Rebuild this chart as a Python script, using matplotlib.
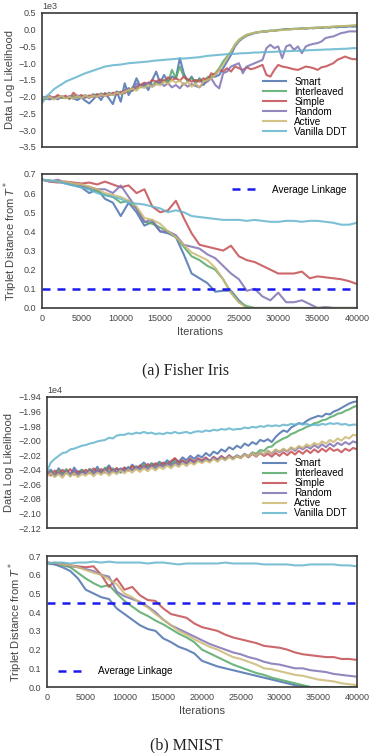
import numpy as np
import matplotlib
matplotlib.use("Agg")
import matplotlib.pyplot as plt

plt.rcParams['font.family'] = ['Liberation Sans', 'DejaVu Sans']

methods = ['Smart', 'Interleaved', 'Simple', 'Random', 'Active', 'Vanilla DDT']
colors = ['#4C72B0', '#55A868', '#C44E52', '#8172B2', '#CCB974', '#64B5CD']

# log likelihood sampled every 500 iterations, triplet distance every 1000
iters_ll = np.arange(0, 40001, 500)
iters_td = np.arange(0, 40001, 1000)

# ---- Fisher Iris: data log likelihood (x1e3)
fi_ll_smart = [
    -2.10, -2.05, -2.08, -2.02, -2.06, -2.00, -2.04, -1.98, -2.05, -2.10,
    -2.02, -2.12, -2.20, -2.08, -1.95, -2.10, -1.90, -2.05, -2.22, -1.85,
    -2.15, -1.60, -1.95, -1.75, -1.45, -1.70, -1.60, -1.80, -1.50, -1.25,
    -1.60, -1.35, -1.55, -1.40, -1.45, -0.85, -1.30, -1.55, -1.40, -1.60,
    -1.45, -1.65, -1.50, -1.42, -1.40, -1.35, -1.15, -0.95, -0.75, -0.50,
    -0.35, -0.25, -0.18, -0.14, -0.10, -0.08, -0.06, -0.06, -0.03, -0.04,
    -0.01, 0.00, 0.02, 0.01, 0.03, 0.02, 0.04, 0.03, 0.05, 0.04,
    0.06, 0.05, 0.07, 0.06, 0.08, 0.07, 0.09, 0.08, 0.10, 0.09, 0.10]
fi_ll_inter = [
    -2.05, -2.08, -2.00, -2.06, -1.98, -2.04, -2.00, -2.07, -1.97, -2.03,
    -2.00, -1.95, -2.02, -1.92, -1.98, -1.90, -1.96, -1.88, -1.94, -1.85,
    -1.90, -1.80, -1.85, -1.72, -1.78, -1.65, -1.70, -1.58, -1.66, -1.55,
    -1.62, -1.50, -1.58, -1.20, -1.45, -1.10, -1.40, -1.52, -1.45, -1.55,
    -1.48, -1.55, -1.42, -1.40, -1.30, -1.15, -0.95, -0.80, -0.65, -0.45,
    -0.30, -0.22, -0.15, -0.12, -0.09, -0.07, -0.05, -0.04, -0.03, -0.02,
    -0.01, 0.00, 0.01, 0.02, 0.02, 0.03, 0.04, 0.04, 0.05, 0.06,
    0.06, 0.07, 0.08, 0.08, 0.09, 0.10, 0.10, 0.11, 0.11, 0.12, 0.12]
fi_ll_simple = [
    -2.00, -2.05, -1.98, -2.04, -1.95, -2.02, -1.97, -2.05, -1.88, -2.00,
    -1.95, -2.03, -1.96, -2.00, -1.92, -1.98, -1.90, -1.96, -1.88, -1.93,
    -1.85, -1.90, -1.75, -1.82, -1.70, -1.65, -1.58, -1.62, -1.50, -1.55,
    -1.48, -1.55, -1.42, -1.50, -1.45, -1.52, -1.40, -1.48, -1.55, -1.50,
    -1.55, -1.45, -1.50, -1.30, -1.35, -1.20, -1.25, -1.15, -1.25, -1.10,
    -1.15, -1.20, -1.12, -1.18, -1.15, -1.10, -1.05, -1.35, -1.40, -1.20,
    -1.05, -1.10, -1.12, -1.15, -1.18, -1.20, -1.15, -1.10, -1.12, -1.15,
    -1.20, -1.12, -1.10, -1.05, -1.00, -0.90, -0.85, -0.80, -0.85, -0.88, -0.88]
fi_ll_random = [
    -2.05, -2.00, -2.06, -2.02, -2.08, -1.98, -2.04, -2.00, -2.06, -1.96,
    -2.02, -1.98, -2.04, -1.95, -2.00, -1.92, -1.98, -1.90, -1.95, -1.85,
    -1.92, -1.80, -1.75, -1.82, -1.60, -1.72, -1.65, -1.58, -1.70, -1.62,
    -1.55, -1.68, -1.60, -1.72, -1.65, -1.75, -1.60, -1.70, -1.62, -1.68,
    -1.72, -1.60, -1.55, -1.45, -1.65, -1.75, -1.30, -1.25, -1.10, -1.05,
    -1.00, -1.30, -1.10, -1.05, -1.00, -0.95, -0.90, -0.55, -0.45, -0.55,
    -0.50, -0.85, -0.50, -0.45, -0.60, -0.50, -0.70, -0.50, -0.45, -0.42,
    -0.40, -0.35, -0.25, -0.22, -0.20, -0.15, -0.10, -0.08, -0.05, -0.05, -0.05]
fi_ll_active = [
    -2.02, -2.06, -2.00, -2.08, -2.03, -1.98, -2.05, -2.00, -2.06, -1.98,
    -2.04, -1.96, -2.02, -1.97, -2.00, -1.94, -1.98, -1.92, -1.95, -1.88,
    -1.92, -1.85, -1.80, -1.76, -1.82, -1.70, -1.74, -1.65, -1.70, -1.62,
    -1.66, -1.55, -1.62, -1.50, -1.58, -1.52, -1.65, -1.55, -1.70, -1.60,
    -1.72, -1.55, -1.50, -1.45, -1.35, -1.20, -1.05, -0.85, -0.65, -0.45,
    -0.32, -0.22, -0.16, -0.12, -0.09, -0.07, -0.06, -0.05, -0.04, -0.03,
    -0.02, -0.01, 0.00, 0.01, 0.02, 0.03, 0.03, 0.04, 0.05, 0.05,
    0.06, 0.07, 0.08, 0.08, 0.09, 0.10, 0.11, 0.11, 0.12, 0.13, 0.14]
fi_ll_vanilla = [
    -2.20, -2.00, -1.90, -1.78, -1.70, -1.63, -1.55, -1.50, -1.45, -1.40,
    -1.35, -1.30, -1.26, -1.22, -1.18, -1.14, -1.10, -1.08, -1.06, -1.05,
    -1.04, -1.02, -1.00, -0.99, -0.98, -0.97, -0.96, -0.95, -0.93, -0.92,
    -0.91, -0.90, -0.89, -0.88, -0.87, -0.86, -0.86, -0.85, -0.84, -0.83,
    -0.82, -0.80, -0.78, -0.77, -0.76, -0.75, -0.74, -0.73, -0.72, -0.72,
    -0.71, -0.70, -0.70, -0.69, -0.68, -0.68, -0.67, -0.67, -0.66, -0.66,
    -0.65, -0.65, -0.64, -0.64, -0.63, -0.63, -0.62, -0.62, -0.61, -0.61,
    -0.60, -0.60, -0.59, -0.59, -0.58, -0.58, -0.57, -0.57, -0.56, -0.55, -0.55]

# ---- Fisher Iris: triplet distance
fi_td_smart = [
    0.67, 0.665, 0.66, 0.65, 0.64, 0.63, 0.60, 0.62, 0.57, 0.55,
    0.48, 0.55, 0.50, 0.43, 0.45, 0.40, 0.39, 0.37, 0.28, 0.18,
    0.155, 0.13, 0.085, 0.09, 0.09, 0.04, 0.0, 0.0, 0.0, 0.0,
    0.0, 0.0, 0.0, 0.0, 0.0, 0.0, 0.0, 0.0, 0.0, 0.0, 0.0]
fi_td_inter = [
    0.67, 0.665, 0.66, 0.655, 0.645, 0.64, 0.62, 0.61, 0.59, 0.58,
    0.55, 0.56, 0.52, 0.45, 0.44, 0.42, 0.40, 0.37, 0.32, 0.27,
    0.25, 0.22, 0.20, 0.15, 0.08, 0.03, 0.01, 0.0, 0.0, 0.0,
    0.0, 0.0, 0.0, 0.0, 0.0, 0.0, 0.0, 0.0, 0.0, 0.0, 0.0]
fi_td_simple = [
    0.67, 0.66, 0.655, 0.66, 0.655, 0.65, 0.655, 0.645, 0.66, 0.645,
    0.63, 0.64, 0.60, 0.62, 0.53, 0.50, 0.51, 0.56, 0.47, 0.39,
    0.33, 0.32, 0.31, 0.30, 0.325, 0.27, 0.25, 0.24, 0.22, 0.20,
    0.18, 0.18, 0.18, 0.19, 0.155, 0.165, 0.16, 0.155, 0.15, 0.14, 0.125]
fi_td_random = [
    0.67, 0.66, 0.67, 0.655, 0.65, 0.64, 0.63, 0.62, 0.62, 0.60,
    0.64, 0.58, 0.52, 0.45, 0.46, 0.40, 0.40, 0.38, 0.33, 0.32,
    0.31, 0.28, 0.26, 0.22, 0.18, 0.15, 0.09, 0.10, 0.06, 0.04,
    0.08, 0.03, 0.03, 0.04, 0.02, 0.0, 0.005, 0.0, 0.0, 0.0, 0.0]
fi_td_active = [
    0.67, 0.665, 0.66, 0.66, 0.65, 0.645, 0.635, 0.62, 0.60, 0.59,
    0.58, 0.56, 0.53, 0.47, 0.46, 0.44, 0.40, 0.37, 0.33, 0.29,
    0.27, 0.25, 0.21, 0.15, 0.08, 0.03, 0.0, 0.0, 0.0, 0.0,
    0.0, 0.0, 0.0, 0.0, 0.0, 0.0, 0.0, 0.0, 0.0, 0.0, 0.0]
fi_td_vanilla = [
    0.67, 0.665, 0.66, 0.65, 0.64, 0.63, 0.62, 0.60, 0.59, 0.58,
    0.57, 0.55, 0.545, 0.54, 0.53, 0.52, 0.50, 0.51, 0.50, 0.48,
    0.475, 0.47, 0.465, 0.46, 0.46, 0.46, 0.455, 0.46, 0.455, 0.45,
    0.45, 0.455, 0.455, 0.45, 0.455, 0.455, 0.45, 0.445, 0.435, 0.435, 0.445]
fi_avg_linkage = 0.1

# ---- MNIST: data log likelihood (x1e4)
mn_ll_smart = [
    -2.044, -2.040, -2.047, -2.038, -2.045, -2.041, -2.049, -2.037, -2.044, -2.040,
    -2.046, -2.039, -2.043, -2.036, -2.045, -2.040, -2.034, -2.042, -2.038, -2.044,
    -2.037, -2.041, -2.033, -2.039, -2.035, -2.030, -2.036, -2.031, -2.034, -2.029,
    -2.033, -2.027, -2.031, -2.025, -2.029, -2.023, -2.027, -2.021, -2.025, -2.020,
    -2.023, -2.017, -2.021, -2.015, -2.018, -2.012, -2.015, -2.009, -2.012, -2.007,
    -2.010, -2.004, -2.007, -2.002, -2.005, -1.999, -2.001, -1.998, -2.002, -1.995,
    -1.990, -1.986, -1.988, -1.982, -1.979, -1.976, -1.977, -1.973, -1.970, -1.968,
    -1.966, -1.967, -1.963, -1.964, -1.960, -1.958, -1.955, -1.952, -1.949, -1.947, -1.946]
mn_ll_inter = [
    -2.046, -2.042, -2.048, -2.041, -2.045, -2.039, -2.046, -2.042, -2.047, -2.040,
    -2.044, -2.039, -2.045, -2.040, -2.043, -2.037, -2.042, -2.038, -2.044, -2.039,
    -2.041, -2.036, -2.040, -2.035, -2.038, -2.033, -2.037, -2.032, -2.036, -2.031,
    -2.034, -2.030, -2.033, -2.028, -2.032, -2.027, -2.031, -2.026, -2.030, -2.027,
    -2.029, -2.025, -2.028, -2.024, -2.027, -2.023, -2.026, -2.022, -2.025, -2.021,
    -2.023, -2.019, -2.021, -2.016, -2.018, -2.013, -2.014, -2.009, -2.008, -2.003,
    -2.000, -1.997, -1.995, -1.991, -1.989, -1.986, -1.984, -1.981, -1.979, -1.976,
    -1.975, -1.972, -1.971, -1.968, -1.966, -1.963, -1.962, -1.959, -1.957, -1.954, -1.952]
mn_ll_simple = [
    -2.043, -2.048, -2.041, -2.046, -2.040, -2.045, -2.039, -2.047, -2.042, -2.044,
    -2.040, -2.045, -2.038, -2.043, -2.039, -2.044, -2.037, -2.042, -2.038, -2.041,
    -2.037, -2.041, -2.035, -2.039, -2.034, -2.038, -2.032, -2.036, -2.031, -2.035,
    -2.030, -2.034, -2.028, -2.024, -2.030, -2.027, -2.031, -2.025, -2.029, -2.024,
    -2.027, -2.023, -2.028, -2.022, -2.026, -2.021, -2.025, -2.020, -2.024, -2.021,
    -2.024, -2.019, -2.023, -2.018, -2.022, -2.017, -2.021, -2.018, -2.022, -2.017,
    -2.021, -2.016, -2.020, -2.015, -2.019, -2.014, -2.018, -2.013, -2.017, -2.012,
    -2.016, -2.011, -2.015, -2.010, -2.014, -2.012, -2.016, -2.011, -2.014, -2.010, -2.012]
mn_ll_random = [
    -2.047, -2.043, -2.049, -2.044, -2.048, -2.042, -2.046, -2.041, -2.047, -2.043,
    -2.045, -2.040, -2.046, -2.041, -2.044, -2.039, -2.045, -2.040, -2.043, -2.038,
    -2.042, -2.037, -2.041, -2.036, -2.040, -2.035, -2.039, -2.034, -2.038, -2.033,
    -2.036, -2.031, -2.035, -2.030, -2.034, -2.029, -2.032, -2.027, -2.031, -2.026,
    -2.029, -2.025, -2.028, -2.023, -2.027, -2.022, -2.026, -2.021, -2.025, -2.020,
    -2.023, -2.018, -2.022, -2.017, -2.021, -2.016, -2.019, -2.014, -2.018, -2.013,
    -2.016, -2.012, -2.015, -2.010, -2.014, -2.009, -2.012, -2.008, -2.011, -2.006,
    -2.010, -2.005, -2.009, -2.004, -2.008, -2.003, -2.006, -2.002, -2.005, -2.001, -2.003]
mn_ll_active = [
    -2.049, -2.045, -2.050, -2.046, -2.051, -2.044, -2.049, -2.045, -2.050, -2.046,
    -2.048, -2.043, -2.049, -2.044, -2.047, -2.042, -2.048, -2.043, -2.046, -2.041,
    -2.045, -2.040, -2.044, -2.039, -2.043, -2.038, -2.042, -2.037, -2.041, -2.036,
    -2.039, -2.034, -2.038, -2.033, -2.036, -2.031, -2.035, -2.030, -2.033, -2.028,
    -2.031, -2.027, -2.030, -2.025, -2.029, -2.024, -2.027, -2.022, -2.026, -2.021,
    -2.024, -2.019, -2.022, -2.017, -2.021, -2.016, -2.019, -2.014, -2.017, -2.012,
    -2.015, -2.011, -2.014, -2.009, -2.012, -2.007, -2.010, -2.005, -2.008, -2.003,
    -2.006, -2.001, -2.004, -1.999, -2.002, -1.997, -2.000, -1.995, -1.997, -1.992, -1.993]
mn_ll_vanilla = [
    -2.042, -2.030, -2.025, -2.021, -2.017, -2.016, -2.012, -2.011, -2.009, -2.007,
    -2.006, -2.004, -2.003, -2.001, -2.000, -1.999, -1.996, -1.997, -1.993, -1.992,
    -1.992, -1.990, -1.991, -1.989, -1.990, -1.988, -1.990, -1.989, -1.991, -1.990,
    -1.991, -1.989, -1.990, -1.988, -1.990, -1.989, -1.988, -1.990, -1.988, -1.987,
    -1.988, -1.986, -1.987, -1.985, -1.986, -1.984, -1.985, -1.983, -1.985, -1.984,
    -1.984, -1.982, -1.983, -1.981, -1.982, -1.980, -1.981, -1.979, -1.980, -1.979,
    -1.980, -1.978, -1.979, -1.977, -1.978, -1.976, -1.978, -1.977, -1.979, -1.978,
    -1.979, -1.977, -1.978, -1.976, -1.977, -1.976, -1.978, -1.977, -1.979, -1.978, -1.978]

# ---- MNIST: triplet distance
mn_td_smart = [
    0.66, 0.655, 0.64, 0.62, 0.58, 0.52, 0.50, 0.48, 0.47, 0.42,
    0.39, 0.36, 0.33, 0.31, 0.30, 0.26, 0.24, 0.215, 0.20, 0.18,
    0.14, 0.125, 0.11, 0.10, 0.09, 0.08, 0.07, 0.06, 0.05, 0.04,
    0.03, 0.02, 0.01, 0.005, 0.0, 0.0, 0.0, 0.0, 0.0, 0.0, 0.0]
mn_td_inter = [
    0.665, 0.66, 0.65, 0.64, 0.61, 0.58, 0.555, 0.535, 0.545, 0.50,
    0.46, 0.43, 0.40, 0.38, 0.355, 0.335, 0.31, 0.285, 0.265, 0.24,
    0.20, 0.18, 0.16, 0.14, 0.12, 0.105, 0.09, 0.075, 0.065, 0.05,
    0.04, 0.03, 0.02, 0.01, 0.0, 0.0, 0.0, 0.0, 0.0, 0.0, 0.0]
mn_td_simple = [
    0.665, 0.66, 0.66, 0.65, 0.645, 0.64, 0.645, 0.60, 0.535, 0.58,
    0.52, 0.535, 0.49, 0.465, 0.46, 0.42, 0.39, 0.38, 0.37, 0.34,
    0.32, 0.31, 0.30, 0.28, 0.265, 0.255, 0.245, 0.235, 0.22, 0.215,
    0.21, 0.20, 0.185, 0.175, 0.17, 0.165, 0.16, 0.16, 0.15, 0.15, 0.145]
mn_td_random = [
    0.665, 0.66, 0.655, 0.645, 0.64, 0.63, 0.62, 0.60, 0.59, 0.51,
    0.485, 0.47, 0.455, 0.43, 0.40, 0.36, 0.33, 0.31, 0.29, 0.27,
    0.25, 0.23, 0.215, 0.20, 0.185, 0.175, 0.16, 0.15, 0.135, 0.125,
    0.12, 0.11, 0.10, 0.10, 0.09, 0.085, 0.08, 0.07, 0.065, 0.06, 0.055]
mn_td_active = [
    0.66, 0.665, 0.655, 0.65, 0.64, 0.625, 0.61, 0.60, 0.575, 0.55,
    0.50, 0.48, 0.45, 0.425, 0.39, 0.36, 0.33, 0.30, 0.28, 0.255,
    0.235, 0.215, 0.20, 0.18, 0.16, 0.15, 0.135, 0.12, 0.10, 0.095,
    0.085, 0.075, 0.065, 0.06, 0.05, 0.04, 0.035, 0.03, 0.02, 0.015, 0.01]
mn_td_vanilla = [
    0.66, 0.665, 0.665, 0.66, 0.665, 0.665, 0.67, 0.665, 0.67, 0.665,
    0.665, 0.665, 0.665, 0.66, 0.665, 0.665, 0.66, 0.655, 0.66, 0.66,
    0.66, 0.66, 0.66, 0.665, 0.66, 0.66, 0.66, 0.66, 0.655, 0.655,
    0.655, 0.655, 0.65, 0.65, 0.655, 0.655, 0.655, 0.655, 0.65, 0.65, 0.645]
mn_avg_linkage = 0.45

fi_ll = [fi_ll_smart, fi_ll_inter, fi_ll_simple, fi_ll_random, fi_ll_active, fi_ll_vanilla]
fi_td = [fi_td_smart, fi_td_inter, fi_td_simple, fi_td_random, fi_td_active, fi_td_vanilla]
mn_ll = [mn_ll_smart, mn_ll_inter, mn_ll_simple, mn_ll_random, mn_ll_active, mn_ll_vanilla]
mn_td = [mn_td_smart, mn_td_inter, mn_td_simple, mn_td_random, mn_td_active, mn_td_vanilla]

TICK = 6.5
LABEL = 8
GRAY = '#444444'
LW = 1.5


def style_axes(ax):
    for s in ax.spines.values():
        s.set_color('#3a3a3a')
        s.set_linewidth(1.2)
        s.set_zorder(5)
    ax.tick_params(length=0, labelsize=TICK, labelcolor=GRAY, pad=4)
    ax.set_xlim(0, 40000)


def plot_ll(ax, series, scale, ylim, yticks):
    for vals, name, c in zip(series, methods, colors):
        ax.plot(iters_ll, np.array(vals) * scale, color=c, lw=LW, alpha=0.85, label=name)
    style_axes(ax)
    ax.set_ylim(*ylim)
    ax.set_yticks(yticks)
    ax.set_xticks(np.arange(0, 40001, 5000))
    ax.set_xticklabels([])
    ax.ticklabel_format(axis='y', style='sci', scilimits=(0, 0), useOffset=False)
    ax.yaxis.get_offset_text().set_fontsize(TICK)
    ax.yaxis.get_offset_text().set_color(GRAY)
    ax.set_ylabel('Data Log Likelihood', fontsize=LABEL, color=GRAY, labelpad=3)
    ax.legend(loc='lower right', frameon=False, fontsize=7.2, labelspacing=0.0,
              handlelength=2.3, handletextpad=0.8, borderaxespad=0.6)


def plot_td(ax, series, avg, legend_loc):
    for vals, name, c in zip(series, methods, colors):
        ax.plot(iters_td, vals, color=c, lw=LW, alpha=0.85)
    ax.axhline(avg, color='#1a1aee', lw=1.8, dashes=(3.2, 2.8), label='Average Linkage')
    style_axes(ax)
    ax.set_ylim(0, 0.7)
    ax.set_yticks(np.arange(0, 0.71, 0.1))
    ax.set_xticks(np.arange(0, 40001, 5000))
    ax.set_xlabel('Iterations', fontsize=LABEL, color=GRAY, labelpad=3)
    ax.set_ylabel(r'Triplet Distance from $T^*$', fontsize=LABEL, color=GRAY, labelpad=3)
    ax.legend(loc=legend_loc, frameon=False, fontsize=7.2, handlelength=2.8,
              handletextpad=1.2, borderaxespad=0.7)


fig = plt.figure(figsize=(3.72, 7.53), dpi=100)

ax1 = fig.add_axes([0.1129, 0.8048, 0.8468, 0.178])
plot_ll(ax1, fi_ll, 1000, (-3500, 500), np.arange(-3500, 501, 500))

ax2 = fig.add_axes([0.1129, 0.5910, 0.8468, 0.178])
plot_td(ax2, fi_td, fi_avg_linkage, 'upper right')

fig.text(0.5, 1 - 370 / 753, '(a) Fisher Iris', ha='center', va='center',
         fontsize=11.5, family='Liberation Serif', color='#222222')

ax3 = fig.add_axes([0.1263, 0.2988, 0.8333, 0.174])
plot_ll(ax3, mn_ll, 10000, (-21200, -19400), np.arange(-21200, -19399, 200))

ax4 = fig.add_axes([0.1263, 0.0876, 0.8333, 0.174])
plot_td(ax4, mn_td, mn_avg_linkage, 'lower left')

fig.text(0.5, 1 - 745 / 753, '(b) MNIST', ha='center', va='center',
         fontsize=11.5, family='Liberation Serif', color='#222222')

fig.savefig('out.png', dpi=100)
